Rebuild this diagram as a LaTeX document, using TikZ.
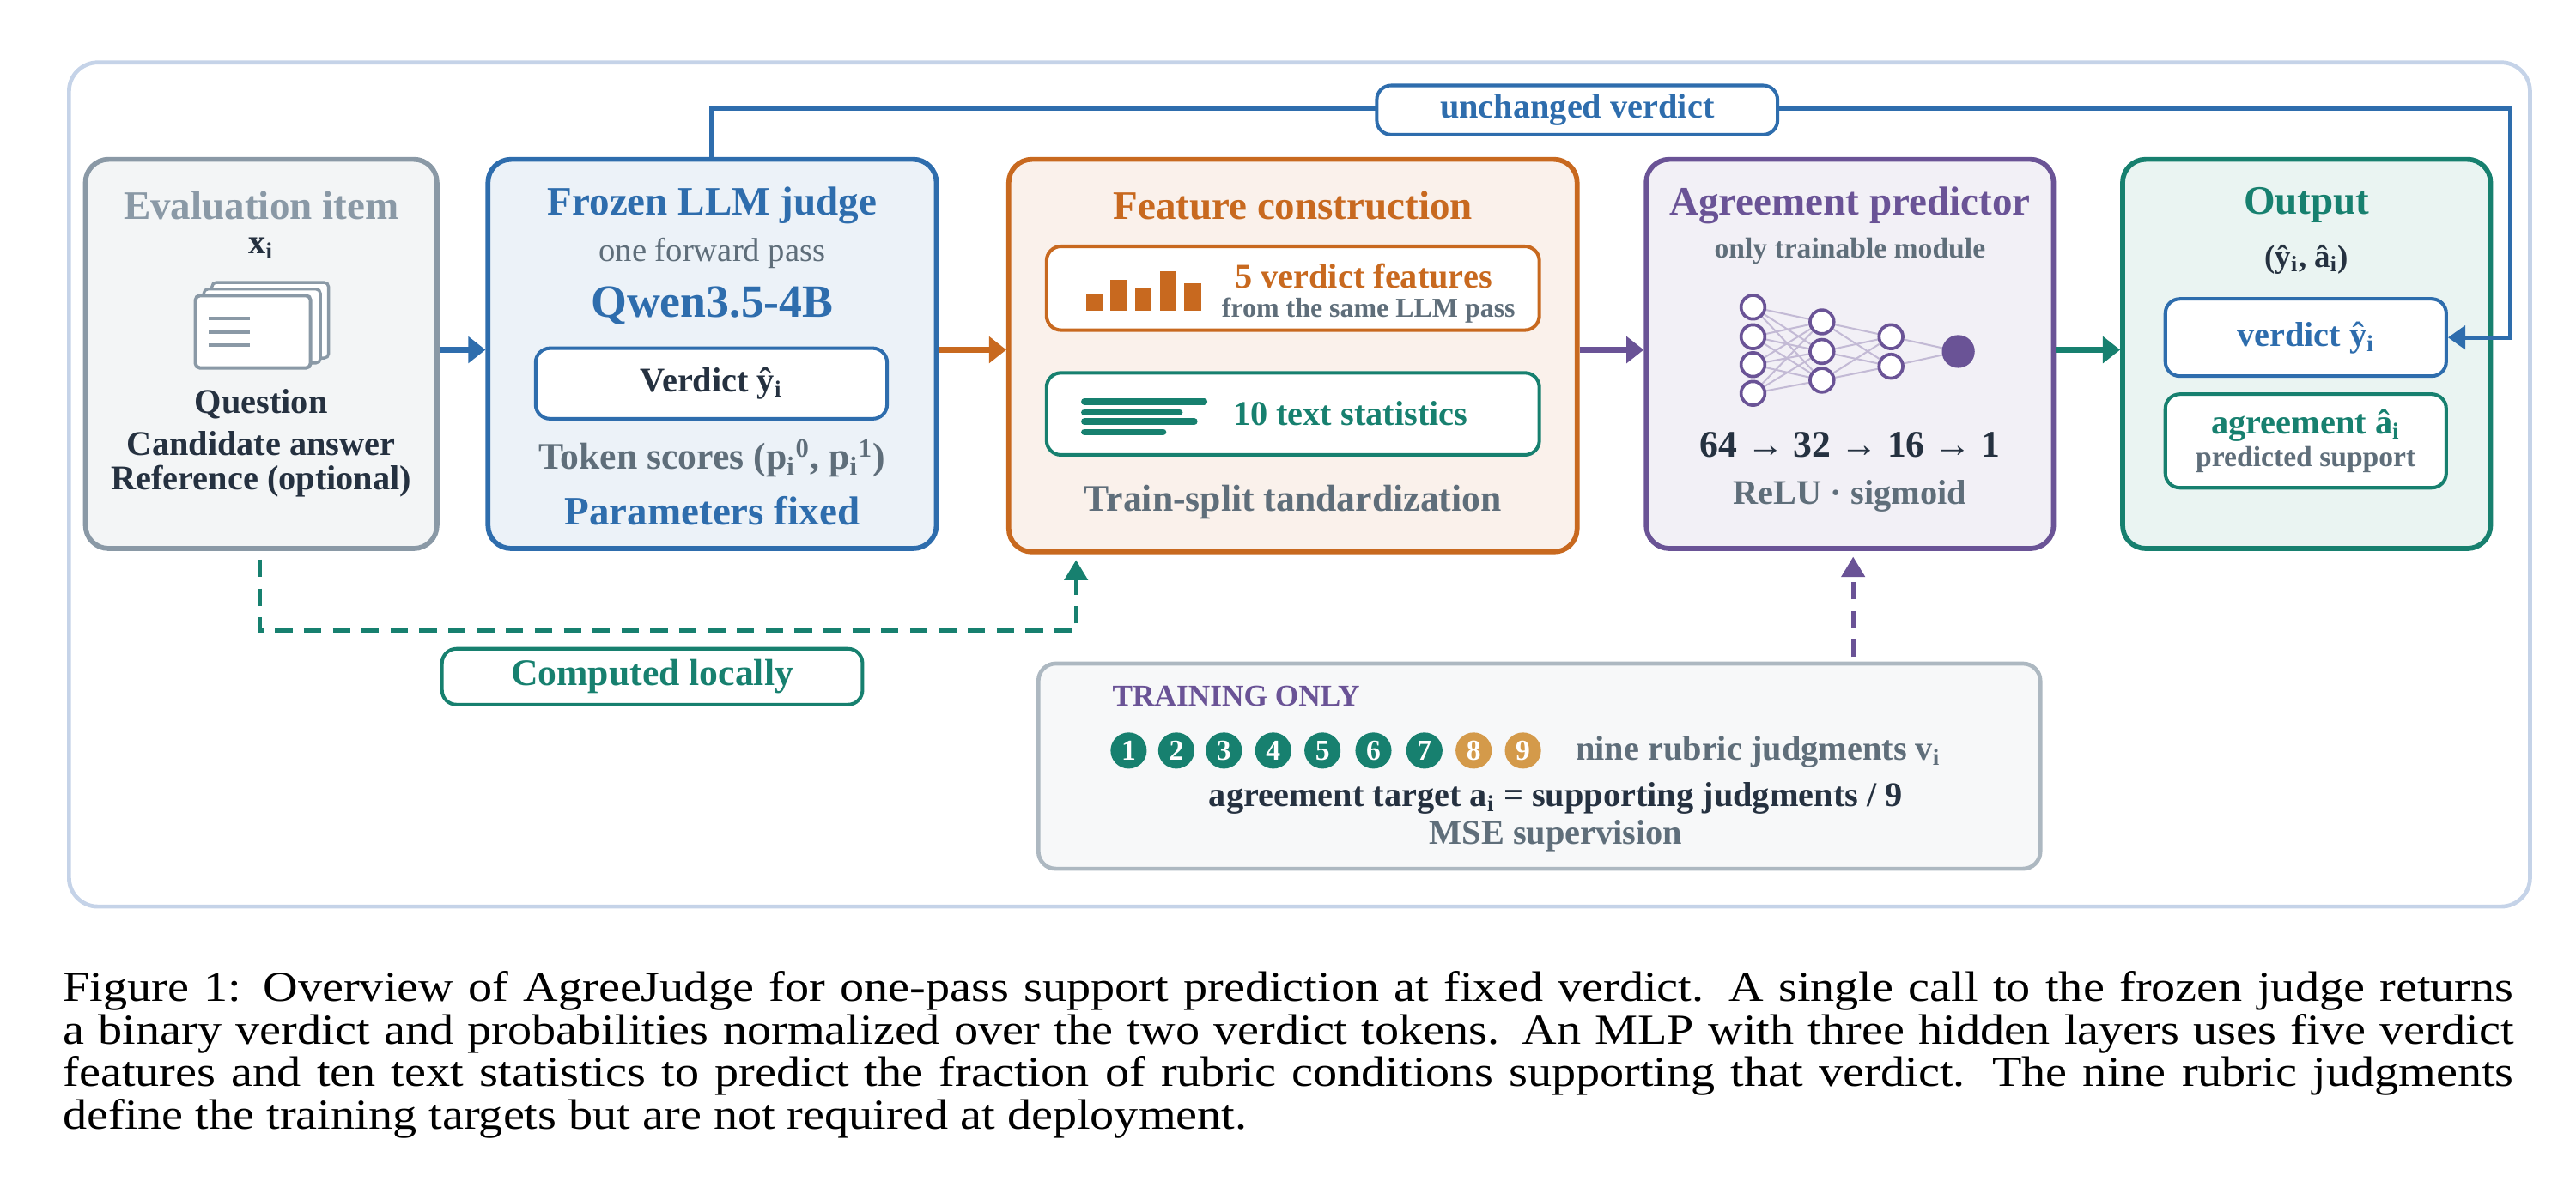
\documentclass[tikz,border=0pt]{standalone}
\usepackage{fontspec}
\setmainfont{Liberation Serif}
\newfontfamily\capfont{Liberation Serif}[FakeStretch=1.13]
\usetikzlibrary{arrows.meta,positioning,calc}
\definecolor{cblue}{HTML}{2E6DAD}
\definecolor{corange}{HTML}{C8691F}
\definecolor{cpurple}{HTML}{6A5396}
\definecolor{cteal}{HTML}{17806F}
\definecolor{cgray}{HTML}{8A99A6}
\definecolor{cdark}{HTML}{253140}
\definecolor{cmid}{HTML}{5F6E7A}
\definecolor{cgold}{HTML}{D49A4A}
\definecolor{cframe}{HTML}{C5D3E8}
\tikzset{
  box/.style={draw=#1, line width=1.7pt, rounded corners=8pt, inner sep=0pt},
  inbox/.style={draw=#1, line width=1.2pt, rounded corners=5pt, fill=white, inner sep=0pt},
  ttl/.style={font=\fontsize{14}{16}\selectfont\bfseries, text=#1},
  txt/.style={font=\fontsize{12}{14}\selectfont\bfseries, text=#1},
  flow/.style={line width=2.2pt, draw=#1, -{Triangle[length=6pt,width=9pt]}},
  neuron/.style={circle, draw=cpurple, line width=1.1pt, fill=white, inner sep=0pt},
  rub/.style={circle, fill=#1, text=white, font=\fontsize{10}{10}\selectfont\bfseries, minimum size=0.44cm, inner sep=0pt}
}
\begin{document}
\begin{tikzpicture}[x=0.02cm,y=-0.02cm]
  \useasboundingbox (0,0) rectangle (1568,727);

  % outer frame
  \draw[draw=cframe, line width=1.4pt, rounded corners=10pt] (42,38) rectangle (1540,552);

  % main boxes
  \node[box=cgray, fill=cgray!10, minimum width=4.28cm, minimum height=4.74cm] (eval) at (159,215.5) {};
  \node[box=cblue, fill=cblue!9, minimum width=5.46cm, minimum height=4.74cm] (judge) at (433.5,215.5) {};
  \node[box=corange, fill=corange!9, minimum width=6.92cm, minimum height=4.78cm] (feat) at (787,216.5) {};
  \node[box=cpurple, fill=cpurple!9, minimum width=4.96cm, minimum height=4.74cm] (agree) at (1126,215.5) {};
  \node[box=cteal, fill=cteal!9, minimum width=4.48cm, minimum height=4.74cm] (out) at (1404,215.5) {};

  % evaluation item
  \node[ttl=cgray] (evalt) at (159,125) {Evaluation item};
  \node[txt=cdark] (evalx) at (159,151) {x\textsubscript{i}};
  \draw[draw=cgray, line width=1pt, fill=white, rounded corners=1.5pt] (129,172) rectangle (200,218);
  \draw[draw=cgray, line width=1pt, fill=white, rounded corners=1.5pt] (124,176) rectangle (195,221);
  \draw[draw=cgray, line width=1.2pt, fill=white, rounded corners=1.5pt] (119,180) rectangle (189,224);
  \foreach \y in {194,202,210}
    \draw[draw=cgray, line width=1.2pt] (127,\y) -- (152,\y);
  \node[txt=cdark] (q) at (159,246) {Question};
  \node[txt=cdark] (c) at (159,270) {Candidate answer};
  \node[txt=cdark] (r) at (159,293) {Reference (optional)};

  % frozen judge
  \node[ttl=cblue] (judget) at (433.5,125) {Frozen LLM judge};
  \node[font=\fontsize{11.5}{13}\selectfont, text=cmid] (pass) at (433.5,154) {one forward pass};
  \node[font=\fontsize{16}{18}\selectfont\bfseries, text=cblue] (qwen) at (433.5,186) {Qwen3.5-4B};
  \node[inbox=cblue, minimum width=4.28cm, minimum height=0.86cm, txt=cdark] (verdict) at (433,233.5) {Verdict ŷ\textsubscript{i}};
  \node[font=\fontsize{13}{15}\selectfont\bfseries, text=cmid] (tok) at (433.5,279) {Token scores (p\textsubscript{i}\textsuperscript{0}, p\textsubscript{i}\textsuperscript{1})};
  \node[ttl=cblue] (fixed) at (433.5,311) {Parameters fixed};

  % feature construction
  \node[ttl=corange] (featt) at (787,125) {Feature construction};
  \node[inbox=corange, minimum width=6cm, minimum height=1.02cm] (vf) at (787,175.5) {};
  \foreach \x/\t in {661/179,676/170.5,691/175.6,706/165,721/172.5}
    \fill[corange] (\x,\t) rectangle ++(10,189-\t);
  \node[txt=corange, inner sep=1pt] (vft) at (830,168) {5 verdict features};
  \node[font=\fontsize{9.5}{11}\selectfont\bfseries, text=cmid, inner sep=1pt] (vfs) at (833,189) {from the same LLM pass};
  \node[inbox=cteal, minimum width=6cm, minimum height=1cm] (ts) at (787,252) {};
  \foreach \y/\e in {244.5/733,251/718,256.7/727,263/708}
    \draw[cteal, line width=2.2pt, line cap=round] (660,\y) -- (\e,\y);
  \node[txt=cteal] (tst) at (822,252) {10 text statistics};
  \node[font=\fontsize{13}{15}\selectfont\bfseries, text=cmid] (std) at (787,306) {Train-split tandardization};

  % agreement predictor
  \node[ttl=cpurple] (agreet) at (1126,125) {Agreement predictor};
  \node[font=\fontsize{10}{12}\selectfont\bfseries, text=cmid] (train) at (1126,153) {only trainable module};
  \foreach \i/\y in {1/187,2/205,3/222,4/239.5}
    \coordinate (a\i) at (1067,\y);
  \foreach \i/\y in {1/196,2/214,3/231.5}
    \coordinate (b\i) at (1109,\y);
  \foreach \i/\y in {1/205,2/223}
    \coordinate (c\i) at (1151,\y);
  \coordinate (d) at (1192,214);
  \foreach \i in {1,...,4}
    \foreach \j in {1,2,3}
      \draw[cpurple!40, line width=0.6pt] (a\i) -- (b\j);
  \foreach \i in {1,2,3}
    \foreach \j in {1,2}
      \draw[cpurple!40, line width=0.6pt] (b\i) -- (c\j);
  \foreach \i in {1,2}
    \draw[cpurple!40, line width=0.6pt] (c\i) -- (d);
  \foreach \n in {a1,a2,a3,a4,b1,b2,b3,c1,c2}
    \node[neuron, minimum size=0.29cm] (n\n) at (\n) {};
  \node[circle, fill=cpurple, minimum size=0.4cm, inner sep=0pt] (nd) at (d) {};
  \node[font=\fontsize{13}{15}\selectfont\bfseries, text=cdark] (dims) at (1126,271) {64 → 32 → 16 → 1};
  \node[font=\fontsize{12}{14}\selectfont\bfseries, text=cmid] (act) at (1126,302) {ReLU · sigmoid};

  % output
  \node[ttl=cteal] (outt) at (1404,125) {Output};
  \node[font=\fontsize{11}{13}\selectfont\bfseries, text=cdark] (pair) at (1404,158) {(ŷ\textsubscript{i}, â\textsubscript{i})};
  \node[inbox=cblue, minimum width=3.42cm, minimum height=0.94cm, txt=cblue] (ov) at (1403.5,205.5) {verdict ŷ\textsubscript{i}};
  \node[inbox=cteal, minimum width=3.42cm, minimum height=1.14cm] (oa) at (1403.5,268.5) {};
  \node[txt=cteal] (oat) at (1403.5,259) {agreement â\textsubscript{i}};
  \node[font=\fontsize{10}{12}\selectfont\bfseries, text=cmid] (oas) at (1403.5,280) {predicted support};

  % flow arrows
  \draw[flow=cblue] (eval.east |- 0,213) -- (judge.west |- 0,213);
  \draw[flow=corange] (judge.east |- 0,213) -- (feat.west |- 0,213);
  \draw[flow=cpurple] (feat.east |- 0,213) -- (agree.west |- 0,213);
  \draw[flow=cteal] (agree.east |- 0,213) -- (out.west |- 0,213);

  % unchanged verdict bypass
  \coordinate (by1) at (433,66);
  \coordinate (by2) at (1528,66);
  \draw[cblue, line width=1.5pt, -{Triangle[length=6pt,width=8pt]}] (judge.north -| by1) -- (by1) -- (by2) |- (ov.east);
  \node[inbox=cblue, minimum width=4.88cm, minimum height=0.6cm, font=\fontsize{12}{14}\selectfont\bfseries, text=cblue] (unch) at (960,67) {unchanged verdict};

  % computed locally
  \coordinate (loc1) at (158,384);
  \coordinate (loc2) at (655,384);
  \draw[cteal, line width=1.5pt, dash pattern=on 6pt off 4pt, -{Triangle[length=7pt,width=8pt]}] ([yshift=-3pt]eval.south -| loc1) -- (loc1) -- (loc2) -- ([yshift=-2pt]feat.south -| loc2);
  \node[inbox=cteal, minimum width=5.12cm, minimum height=0.68cm, font=\fontsize{13}{15}\selectfont\bfseries, text=cteal] (local) at (397,412) {Computed locally};

  % training only
  \node[draw=cgray!70, line width=1.4pt, rounded corners=6pt, fill=cgray!7, minimum width=12.2cm, minimum height=2.5cm, inner sep=0pt] (trainbox) at (937,466.5) {};
  \coordinate (tr) at (1128,400);
  \draw[cpurple, line width=1.5pt, dash pattern=on 6pt off 4pt, -{Triangle[length=7pt,width=8pt]}] (tr) -- ([yshift=-2pt]agree.south -| tr);
  \node[anchor=west, font=\fontsize{10.5}{12}\selectfont\bfseries, text=cpurple] (tonly) at (671,424) {TRAINING ONLY};
  \foreach \k/\x/\c in {1/687/cteal,2/716/cteal,3/745/cteal,4/775/cteal,5/805/cteal,6/836/cteal,7/867/cteal,8/897/cgold,9/927/cgold}
    \node[rub=\c] (v\k) at (\x,457) {\k};
  \node[anchor=west, font=\fontsize{12}{14}\selectfont\bfseries, text=cmid] (nine) at (953,458) {nine rubric judgments v\textsubscript{i}};
  \node[txt=cdark] (target) at (947,486) {agreement target a\textsubscript{i} = supporting judgments / 9};
  \node[font=\fontsize{12}{14}\selectfont\bfseries, text=cmid] (mse) at (947,509) {MSE supervision};

  % caption
  \node[anchor=north west, text width=29.84cm, align=justify, font=\capfont\fontsize{14.8}{14.8}\selectfont, inner sep=0pt] (cap) at (38,591) {Figure 1: Overview of AgreeJudge for one-pass support prediction at fixed verdict. A single call to the frozen judge returns a binary verdict and probabilities normalized over the two verdict tokens. An MLP with three hidden layers uses five verdict features and ten text statistics to predict the fraction of rubric conditions supporting that verdict. The nine rubric judgments define the training targets but are not required at deployment.};
\end{tikzpicture}
\end{document}
